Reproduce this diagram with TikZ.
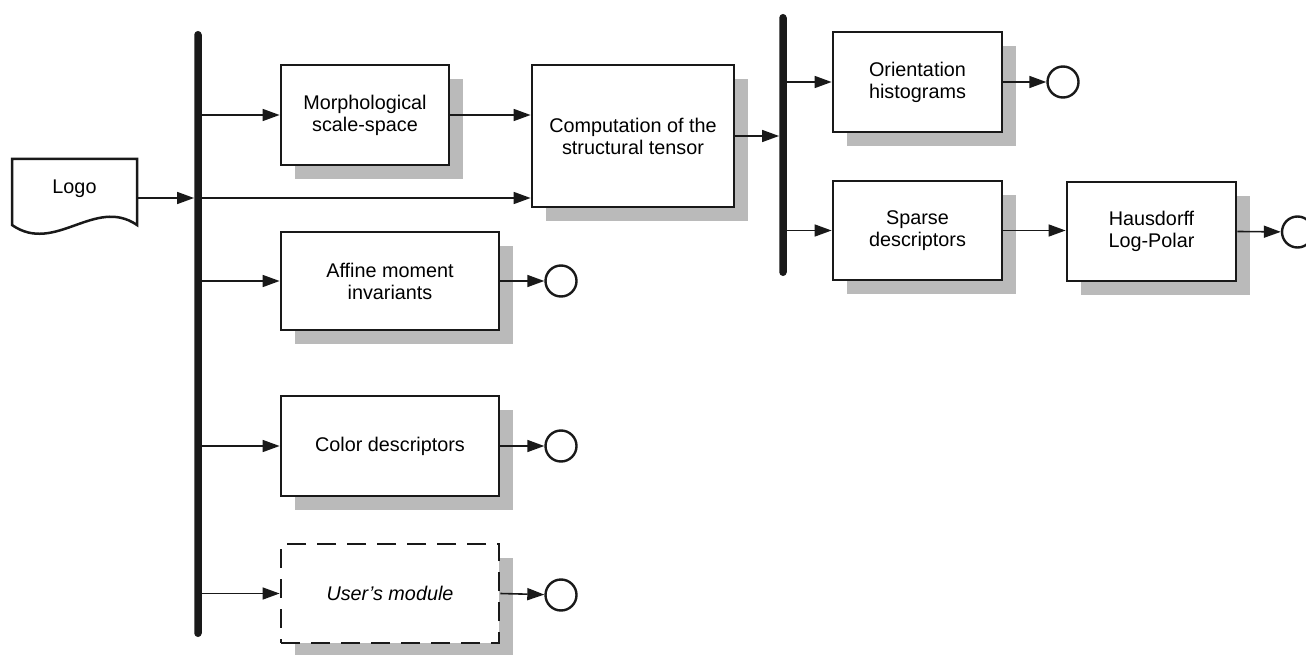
\documentclass[tikz,border=0pt]{standalone}
\usepackage{fontspec}
\setmainfont{Liberation Sans}
\usetikzlibrary{arrows.meta,shadows}
\begin{document}
\begin{tikzpicture}[x=1pt,y=-1pt,
  every node/.style={font=\fontsize{19.8}{22}\selectfont, align=center, inner sep=0pt},
  module/.style={draw=black!90, line width=2.8pt, fill=white, minimum height=100pt,
    drop shadow={shadow xshift=14pt, shadow yshift=-14pt, fill=black!27, opacity=1}},
  bus/.style={fill=black!90, minimum width=7.5pt, rounded corners=3.7pt},
  link/.style={draw=black!90, line width=1.6pt, -{Triangle[length=17pt,width=12pt]}},
  sink/.style={circle, draw=black!90, line width=2.4pt, minimum size=31pt, fill=white},
]
\useasboundingbox (0,0) rectangle (1306,655);
\clip (0,0) rectangle (1306,655);

% input document
\node[minimum width=125pt, minimum height=78pt, text height=14pt, text depth=22pt] (logo) at (74.5,198) {Logo};
\draw[draw=black!90, line width=2.5pt] (12,159) -- (137,159) -- (137,225)
  .. controls (95,196) and (55,255) .. (12,225) -- cycle;

% distribution bars
\node[bus, minimum height=606pt] (bus1) at (198,334) {};
\node[bus, minimum height=262pt] (bus2) at (783,145) {};

% processing modules
\node[module, minimum width=168pt] (morph) at (365,115) {Morphological\\scale-space};
\node[module, minimum width=202pt, minimum height=142pt] (tensor) at (633,136) {Computation of the\\structural tensor};
\node[module, minimum width=218pt, minimum height=98pt] (affine) at (390,281) {Affine moment\\invariants};
\node[module, minimum width=218pt] (color) at (390,446) {Color descriptors};
\node[module, minimum width=218pt, minimum height=99pt, dash pattern=on 19pt off 11pt] (user) at (390,593.5) {\itshape User’s module};
\node[module, minimum width=169pt] (orient) at (917.5,82) {Orientation\\histograms};
\node[module, minimum width=169pt, minimum height=99pt] (sparse) at (917.5,230.5) {Sparse\\descriptors};
\node[module, minimum width=169pt, minimum height=99pt] (haus) at (1151.5,231.5) {Hausdorff\\Log-Polar};

% outputs
\node[sink] (endaffine) at (561,281) {};
\node[sink] (endcolor) at (561,446) {};
\node[sink] (enduser) at (561,595) {};
\node[sink] (endorient) at (1063,82) {};
\node[sink] (endhaus) at (1297.5,232) {};

% connectors
\draw[link] (logo.east) -- (bus1.west |- logo.east);
\draw[link] (bus1.east |- morph.west) -- (morph.west);
\draw[link] (bus1.east |- logo.east) -- (tensor.west |- logo.east);
\draw[link] (bus1.east |- affine.west) -- (affine.west);
\draw[link] (bus1.east |- color.west) -- (color.west);
\draw[link] (bus1.east |- user.west) -- (user.west);
\draw[link] (morph.east) -- (tensor.west |- morph.east);
\draw[link] (tensor.east) -- (bus2.west |- tensor.east);
\draw[link] (bus2.east |- orient.west) -- (orient.west);
\draw[link] (bus2.east |- sparse.west) -- (sparse.west);
\draw[link] (sparse.east) -- (haus.west |- sparse.east);
\draw[link] (orient.east) -- (endorient);
\draw[link] (haus.east) -- (endhaus);
\draw[link] (affine.east) -- (endaffine);
\draw[link] (color.east) -- (endcolor);
\draw[link] (user.east) -- (enduser);
\end{tikzpicture}
\end{document}
